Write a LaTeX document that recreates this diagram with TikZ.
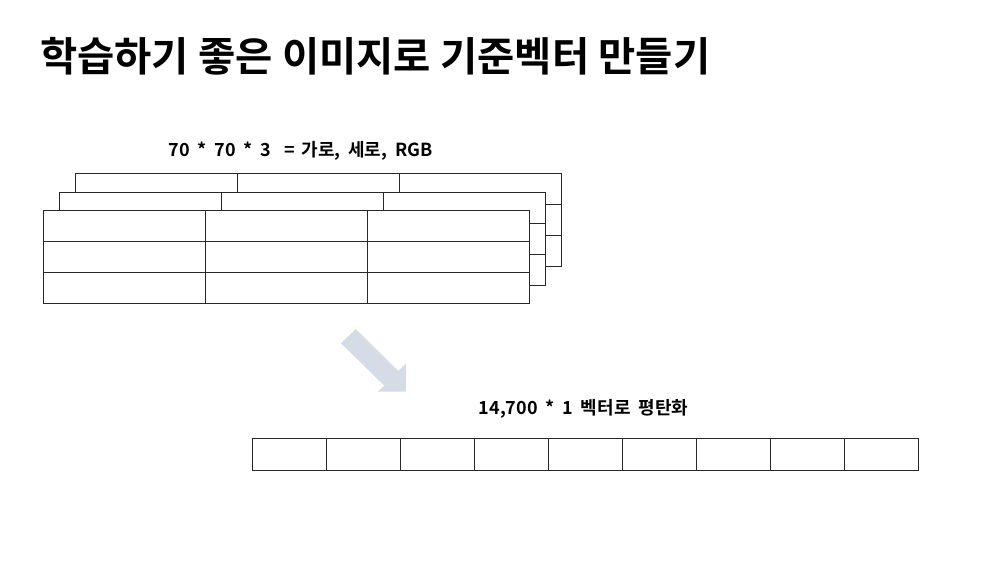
\documentclass[tikz,border=0pt]{standalone}
\usepackage{fontspec}
\newfontfamily\KrBold{Noto Sans CJK KR Bold}
\newcommand\LabelFont{\KrBold\fontsize{18}{21}\selectfont\spaceskip=7.8pt\relax}
\usepackage{xcolor}
\definecolor{ArrowGray}{RGB}{214,220,229}
\definecolor{LineCol}{RGB}{40,40,40}
\tikzstyle{TitleText}=[font=\KrBold\fontsize{40.5}{44}\selectfont,anchor=west,inner sep=0pt]
\tikzstyle{LabelText}=[font=\LabelFont,inner sep=0pt]
\tikzstyle{GridCell}=[draw=LineCol,fill=white,line width=1pt,minimum width=162pt,
minimum height=31pt,inner sep=0pt,anchor=north west]
\tikzstyle{VecCell}=[draw=LineCol,fill=white,line width=1pt,minimum width=74pt,
minimum height=32pt,inner sep=0pt,anchor=north west]
\tikzstyle{FlowArrow}=[fill=ArrowGray]

\begin{document}
\begin{tikzpicture}[x=1pt,y=-1pt]
        \useasboundingbox (0,0) rectangle (1001,563);
        \node[TitleText](title)at(40,56){학습하기 좋은 이미지로 기준벡터 만들기};
        \node[LabelText](gridlabel)at(300.5,151){70 * 70 * 3\hspace{14pt}=\hspace{6pt}가로, 세로, RGB};
        % three stacked channels, back one first
        \foreach \lay/\dx/\dy in {2/32/-37,1/16/-18.5,0/0/0}
            \foreach \r in {0,1,2}
                \foreach \c in {0,1,2}
                    \node[GridCell](g\lay-\r-\c)at({43+\dx+162*\c},{210+\dy+31*\r}){};
        \fill[FlowArrow](355.7,329)--(398.3,371)--(406,363.3)--(406,391.7)
            --(377.7,391.7)--(384.3,385.7)--(341,343.3)--cycle;
        \node[LabelText](veclabel)at(583.5,409){14,700 * 1 벡터로 평탄화};
        \foreach \c in {0,...,8}
            \node[VecCell](v\c)at({252+74*\c},438){};
    \end{tikzpicture}
\end{document}
